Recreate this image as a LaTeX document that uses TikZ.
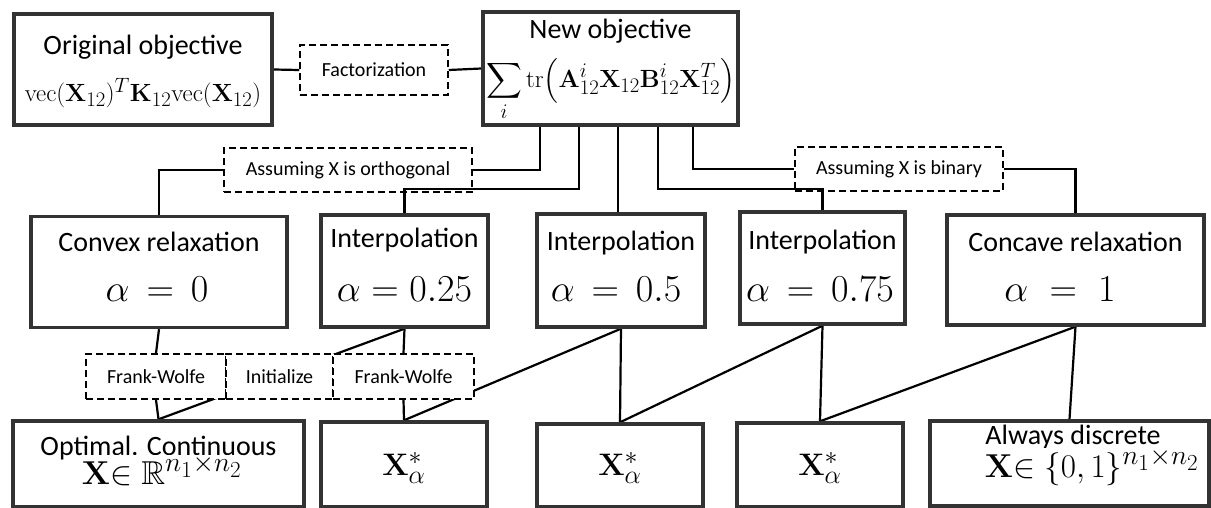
\documentclass[tikz,border=0pt]{standalone}
\usepackage{amsmath,amssymb}
\usepackage[no-math]{fontspec}
\setmainfont{Carlito}
\usetikzlibrary{backgrounds}
\begin{document}
\begin{tikzpicture}[x=1pt,y=-1pt,
  box/.style={draw=black!80, line width=3.4pt, fill=white, inner sep=0pt},
  dbox/.style={draw=black, line width=1.5pt, dash pattern=on 7pt off 4pt, inner sep=0pt, font=\fontsize{20}{24}\selectfont},
  dboxw/.style={dbox, fill=white},
  conn/.style={line width=2.2pt, black},
  ttl/.style={font=\fontsize{28}{32}\selectfont, inner sep=0pt},
  mth/.style={inner sep=0pt, font=\Huge},
  mbig/.style={inner sep=0pt, font=\Huge, scale=1.53},
  mbot/.style={inner sep=0.5pt, font=\Huge, scale=1.33},
  mxs/.style={inner sep=0pt, font=\Huge, scale=1.25},
]
\useasboundingbox (0,0) rectangle (1211,508);

% top row
\node[box, minimum width=258pt, minimum height=111pt] (orig) at (143,69.5) {};
\node[dbox, minimum width=148pt, minimum height=50pt] (fact) at (374,70) {Factorization};
\node[box, minimum width=255pt, minimum height=113pt] (new) at (610.5,68.5) {};
\node[ttl] (torig) at (143,47) {Original objective};
\node[mth] (morig) at (143,93) {$\mathrm{vec}(\mathbf{X}_{12})^T\mathbf{K}_{12}\mathrm{vec}(\mathbf{X}_{12})$};
\node[ttl] (tnew) at (610.5,31) {New objective};
\node[mth] (mnew) at (610.5,90) {$\displaystyle\sum_i \mathrm{tr}\Big(\mathbf{A}^i_{12}\mathbf{X}_{12}\mathbf{B}^i_{12}\mathbf{X}^T_{12}\Big)$};

% assumption boxes
\node[dbox, minimum width=248pt, minimum height=44pt] (ortho) at (348,170) {Assuming X is orthogonal};
\node[dbox, minimum width=208pt, minimum height=44pt] (binary) at (899,169) {Assuming X is binary};

% middle row
\node[box, minimum width=256pt, minimum height=111pt] (convex) at (159,272) {};
\node[box, minimum width=167pt, minimum height=112pt] (i25) at (404.5,271) {};
\node[box, minimum width=168pt, minimum height=113pt] (i50) at (621,270.5) {};
\node[box, minimum width=165pt, minimum height=112pt] (i75) at (822.5,268) {};
\node[box, minimum width=257pt, minimum height=110pt] (concave) at (1075.5,270) {};

\node[ttl] (tconvex) at (159,242) {Convex relaxation};
\node[mbig] (mconvex) at (157,289) {$\alpha\,=\,0$};
\node[ttl] (ti25) at (404.5,240) {Interpolation};
\node[mbig] (mi25) at (404.5,289) {$\alpha=0.25$};
\node[ttl] (ti50) at (621,243) {Interpolation};
\node[mbig] (mi50) at (616,289) {$\alpha\,=\,0.5$};
\node[ttl] (ti75) at (822.5,242) {Interpolation};
\node[mbig] (mi75) at (820,289) {$\alpha\,=\,0.75$};
\node[ttl] (tconcave) at (1075.5,242) {Concave relaxation};
\node[mbig] (mconcave) at (1060,289) {$\alpha\;=\;1$};

% method boxes
\node[dboxw, minimum width=140pt, minimum height=45pt] (fw1) at (156,376.5) {Frank-Wolfe};
\node[dboxw, minimum width=107pt, minimum height=45pt] (init) at (279.5,376.5) {Initialize};
\node[dboxw, minimum width=141pt, minimum height=45pt] (fw2) at (403.5,376.5) {Frank-Wolfe};

% bottom row
\node[box, minimum width=291pt, minimum height=86pt] (opt) at (158.5,464) {};
\node[box, minimum width=166pt, minimum height=85pt] (xs1) at (404,464.5) {};
\node[box, minimum width=166pt, minimum height=83pt] (xs2) at (620,465.5) {};
\node[box, minimum width=166pt, minimum height=84pt] (xs3) at (820,465) {};
\node[box, minimum width=279pt, minimum height=85pt] (always) at (1069.5,463.5) {};

\node[ttl, anchor=base] (topt) at (158.5,455) {Optimal. Continuous};
\node[mbot, anchor=base, fill=white] (mopt) at (162,484) {$\mathbf{X}{\in}\;\mathbb{R}^{n_1\times n_2}$};
\node[mxs] (mxs1) at (404,468) {$\mathbf{X}^*_\alpha$};
\node[mxs] (mxs2) at (620,468) {$\mathbf{X}^*_\alpha$};
\node[mxs] (mxs3) at (820,468) {$\mathbf{X}^*_\alpha$};
\node[ttl, anchor=base] (talways) at (1073,444) {Always discrete};
\node[mbot, anchor=base, fill=white] (malways) at (1092,477) {$\mathbf{X}{\in}\;\{0,1\}^{n_1\times n_2}$};

\begin{pgfonlayer}{background}
\fill[white] (0,0) rectangle (1211,508);
\draw[conn] (orig.east) -- (fact.west);
\draw[conn] (fact.east) -- (new.west);
\draw[conn] ([xshift=-70.5pt]new.south) |- (ortho.east);
\draw[conn] (ortho.west) -| (convex.north);
\draw[conn] ([xshift=-31.5pt]new.south) -- ++(0,62) -| (i25.north);
\draw[conn] ([xshift=7.5pt]new.south) -- ([xshift=7.5pt]new.south |- i50.north);
\draw[conn] ([xshift=47.5pt]new.south) -- ++(0,62) -| (i75.north);
\draw[conn] ([xshift=82.5pt]new.south) |- (binary.west);
\draw[conn] (binary.east) -| (concave.north);
% diagonals
\draw[conn] (i25.south) -- (opt.north);
\draw[conn] (i50.south) -- (xs1.north);
\draw[conn] (i75.south) -- (xs2.north);
\draw[conn] (concave.south) -- (xs3.north);
% verticals
\draw[conn] (convex.south) -- (fw1.north);
\draw[conn] (fw1.south) -- (opt.north);
\draw[conn] (i25.south) -- (fw2.north);
\draw[conn] (fw2.south) -- (xs1.north);
\draw[conn] (i50.south) -- (xs2.north);
\draw[conn] (i75.south) -- (xs3.north);
\draw[conn] (concave.south) -- (always.north);
\end{pgfonlayer}
\end{tikzpicture}
\end{document}
